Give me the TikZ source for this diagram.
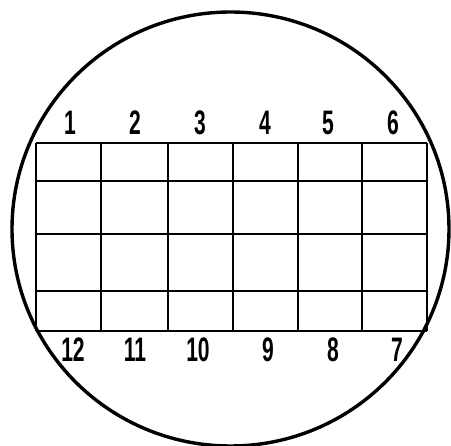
\documentclass[tikz,border=0pt]{standalone}
\usepackage{fontspec}
\newfontfamily\paddigits[FakeStretch=0.62]{Liberation Sans}
\usetikzlibrary{positioning}
\tikzset{
  rim/.style={line width=3.4pt},
  gridline/.style={line width=2pt},
  padlabel/.style={font=\paddigits\bfseries\fontsize{34}{34}\selectfont,inner sep=0pt}
}

\begin{document}
\begin{tikzpicture}[x=1pt,y=-1pt]
\useasboundingbox (0,0) rectangle (451,446);
% wafer outline
\draw[rim] (230.5,229) ellipse (218.5pt and 217pt);
% grid of pads
\foreach \x in {36,101,168,233,298,362,427}
  \draw[gridline] (\x,143) -- (\x,331);
\foreach \y in {143,181,234,291,331}
  \draw[gridline] (36,\y) -- (427,\y);
% numbers above and below
\foreach \n/\x in {1/70,2/135,3/200,4/265,5/328,6/393}
  \node[padlabel] (top\n) at (\x,123) {\n};
\foreach \n/\x in {12/73,11/135,10/198,9/268,8/333,7/397}
  \node[padlabel] (bot\n) at (\x,350) {\n};
\end{tikzpicture}
\end{document}
